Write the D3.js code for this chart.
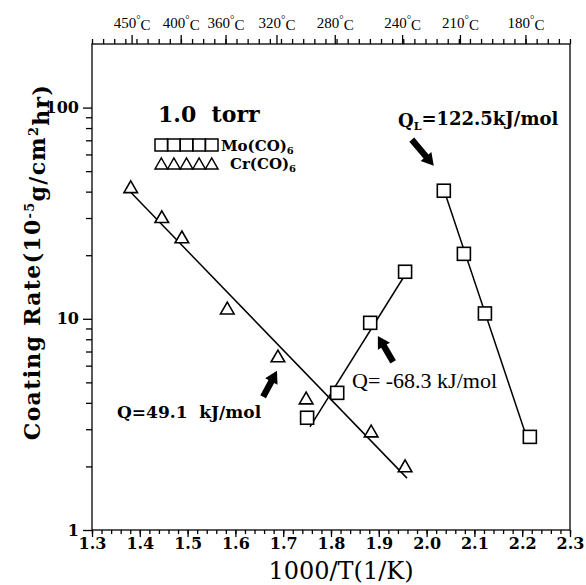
<!DOCTYPE html>
<html>
<head>
<meta charset="utf-8">
<script src="https://cdn.jsdelivr.net/npm/d3@7"></script>
<style>
  body { margin: 0; background: #fff; }
  svg { display: block; }
  .axis path, .axis line { stroke: #000; stroke-width: 1.3px; }
</style>
</head>
<body>
<svg id="chart" width="586" height="585"></svg>
<script>
// data: x = 1000/T (1/K), y = coating rate (10^-5 g/cm^2 hr)
const crX = [1.381, 1.446, 1.488, 1.583, 1.689, 1.748, 1.884, 1.955];
const crY = [41.3, 29.8, 23.9, 11.0, 6.53, 4.13, 2.88, 1.97];
const moX = [1.750, 1.813, 1.882, 1.955, 2.036, 2.078, 2.122, 2.216];
const moY = [3.40, 4.46, 9.57, 16.7, 40.4, 20.3, 10.6, 2.76];

// fitted lines (end points)
const crFit = [[1.382, 39.5], [1.959, 1.76]];
const moLowFit = [[1.756, 3.08], [1.959, 16.7]];
const moHighFit = [[2.036, 40.9], [2.212, 2.64]];

// arrows: [tail, tip]
const arrows = [
  [[1.969, 70.5], [2.015, 53.1]],
  [[1.930, 6.25], [1.898, 8.3]],
  [[1.658, 4.27], [1.687, 5.67]]
];

const xMajor = [1.3, 1.4, 1.5, 1.6, 1.7, 1.8, 1.9, 2.0, 2.1, 2.2, 2.3];
const yMajor = [1, 10, 100];
const tempC = [450, 400, 360, 320, 280, 240, 210, 180];

const svg = d3.select("#chart");
const mLeft = 92, mRight = 570, mTop = 44, mBottom = 530;

const x = d3.scaleLinear().domain([1.3, 2.3]).range([mLeft, mRight]);
const y = d3.scaleLog().domain([1, 200]).range([mBottom, mTop]);

const boldSerif = "'DejaVu Serif', serif";
const timesFont = "'Liberation Serif', 'Times New Roman', serif";

// frame
svg.append("rect")
	.attr("x", mLeft).attr("y", mTop)
	.attr("width", mRight - mLeft).attr("height", mBottom - mTop)
	.style("fill", "none").style("stroke", "#000").style("stroke-width", "1.3px");

// bottom axis
const xMinor = d3.range(0, 51).map(i => 1.3 + i * 0.02);
svg.append("g").attr("class", "axis")
	.attr("transform", "translate(0," + mBottom + ")")
	.call(d3.axisBottom(x).tickValues(xMinor).tickSize(4).tickFormat(""))
	.call(g => g.select(".domain").remove());
svg.append("g").attr("class", "axis")
	.attr("transform", "translate(0," + mBottom + ")")
	.call(d3.axisBottom(x).tickValues(xMajor).tickSize(7).tickPadding(1).tickFormat(d3.format(".1f")))
	.call(g => g.select(".domain").remove())
	.selectAll("text")
	.style("font-family", boldSerif).style("font-weight", "bold").style("font-size", "16px").style("fill", "#000");

// left axis
const yMinor = [];
[1, 10].forEach(d => d3.range(2, 10).forEach(k => yMinor.push(d * k)));
svg.append("g").attr("class", "axis")
	.attr("transform", "translate(" + mLeft + ",0)")
	.call(d3.axisLeft(y).tickValues(yMinor).tickSize(6).tickFormat(""))
	.call(g => g.select(".domain").remove());
svg.append("g").attr("class", "axis")
	.attr("transform", "translate(" + mLeft + ",0)")
	.call(d3.axisLeft(y).tickValues(yMajor).tickSize(9).tickPadding(4).tickFormat(d3.format("d")))
	.call(g => g.select(".domain").remove())
	.selectAll("text")
	.style("font-family", boldSerif).style("font-weight", "bold").style("font-size", "16px").style("fill", "#000");

// top axis: temperature in deg C
const topMinor = d3.range(0, 44).map(i => 1.3 + i / 43);
svg.append("g").attr("class", "axis")
	.attr("transform", "translate(0," + mTop + ")")
	.call(d3.axisTop(x).tickValues(topMinor).tickSize(5).tickFormat(""))
	.call(g => g.select(".domain").remove());
const topAxis = svg.append("g").attr("class", "axis")
	.attr("transform", "translate(0," + mTop + ")")
	.call(d3.axisTop(x).tickValues(tempC.map(t => 1000 / (t + 273.15))).tickSize(9).tickPadding(7).tickFormat(""))
	.call(g => g.select(".domain").remove());
topAxis.selectAll(".tick text")
	.data(tempC)
	.style("font-family", timesFont).style("font-size", "15px").style("fill", "#000")
	.each(function(t) {
		const s = d3.select(this);
		s.append("tspan").text(t);
		s.append("tspan").text("°").attr("dy", "-0.45em").style("font-size", "11px");
		s.append("tspan").text("C").attr("dy", "0.45em");
	});

// axis titles
svg.append("text")
	.attr("x", 341).attr("y", 579)
	.attr("text-anchor", "middle")
	.style("font-family", boldSerif).style("font-size", "24px")
	.text("1000/T(1/K)");

const yTitle = svg.append("text")
	.attr("transform", "translate(40,262) rotate(-90)")
	.attr("text-anchor", "middle")
	.style("font-family", boldSerif).style("font-weight", "bold").style("font-size", "22px")
	.style("letter-spacing", "1.3px");
yTitle.append("tspan").text("Coating Rate(10");
yTitle.append("tspan").text("-5").attr("dy", "-0.5em").style("font-size", "13px");
yTitle.append("tspan").text("g/cm").attr("dy", "0.5em");
yTitle.append("tspan").text("2").attr("dy", "-0.5em").style("font-size", "13px");
yTitle.append("tspan").text("hr)").attr("dy", "0.5em");

// fitted lines
const line = d3.line().x(d => x(d[0])).y(d => y(d[1]));
[crFit, moLowFit, moHighFit].forEach(f => {
	svg.append("path")
		.attr("d", line(f))
		.style("fill", "none").style("stroke", "#000").style("stroke-width", "1.5px");
});

// markers
const sq = 13;
svg.selectAll(".mo").data(d3.zip(moX, moY)).join("rect")
	.attr("class", "mo")
	.attr("x", d => x(d[0]) - sq / 2).attr("y", d => y(d[1]) - sq / 2)
	.attr("width", sq).attr("height", sq)
	.style("fill", "#fff").style("stroke", "#000").style("stroke-width", "1.6px");

const tri = d3.symbol().type(d3.symbolTriangle).size(80);
svg.selectAll(".cr").data(d3.zip(crX, crY)).join("path")
	.attr("class", "cr")
	.attr("d", tri)
	.attr("transform", d => "translate(" + x(d[0]) + "," + y(d[1]) + ")")
	.style("fill", "#fff").style("stroke", "#000").style("stroke-width", "1.6px");

// arrows
function arrowPath(a) {
	const x1 = x(a[0][0]), y1 = y(a[0][1]), x2 = x(a[1][0]), y2 = y(a[1][1]);
	const len = Math.hypot(x2 - x1, y2 - y1);
	const ux = (x2 - x1) / len, uy = (y2 - y1) / len;
	const px = -uy, py = ux;
	const sw = 3.2, hw = 7, hl = 12;
	const bx = x2 - ux * hl, by = y2 - uy * hl;
	const pts = [
		[x1 + px * sw, y1 + py * sw], [bx + px * sw, by + py * sw], [bx + px * hw, by + py * hw],
		[x2, y2],
		[bx - px * hw, by - py * hw], [bx - px * sw, by - py * sw], [x1 - px * sw, y1 - py * sw]
	];
	return "M" + pts.map(p => p.join(",")).join("L") + "Z";
}
svg.selectAll(".arrow").data(arrows).join("path")
	.attr("class", "arrow")
	.attr("d", arrowPath)
	.style("fill", "#000");

// annotations
svg.append("text")
	.attr("x", 158).attr("y", 122)
	.attr("xml:space", "preserve")
	.style("font-family", boldSerif).style("font-weight", "bold").style("font-size", "22px")
	.text("1.0  torr");

const ql = svg.append("text")
	.attr("x", 398).attr("y", 127)
	.style("font-family", boldSerif).style("font-weight", "bold").style("font-size", "18px");
ql.append("tspan").text("Q");
ql.append("tspan").text("L").attr("dy", "0.25em").style("font-size", "11px");
ql.append("tspan").text("=122.5kJ/mol").attr("dy", "-0.25em");

svg.append("text")
	.attr("x", 352).attr("y", 388)
	.style("font-family", timesFont).style("font-size", "22px")
	.text("Q= -68.3 kJ/mol");

svg.append("text")
	.attr("x", 117).attr("y", 418)
	.attr("xml:space", "preserve")
	.style("font-family", boldSerif).style("font-weight", "bold").style("font-size", "17px")
	.text("Q=49.1  kJ/mol");

// legend
const legX = 155, legW = 12.6;
const lg = svg.append("g");
d3.range(5).forEach(i => {
	lg.append("rect")
		.attr("x", legX + i * legW).attr("y", 139)
		.attr("width", legW).attr("height", 12)
		.style("fill", "none").style("stroke", "#000").style("stroke-width", "1.5px");
	lg.append("path")
		.attr("d", "M" + (legX + i * legW) + ",169L" + (legX + (i + 0.5) * legW) + ",158L" + (legX + (i + 1) * legW) + ",169Z")
		.style("fill", "none").style("stroke", "#000").style("stroke-width", "1.5px");
});
function formula(xp, yp, name) {
	const t = lg.append("text")
		.attr("x", xp).attr("y", yp)
		.style("font-family", boldSerif).style("font-weight", "bold").style("font-size", "15px");
	t.append("tspan").text(name + "(CO)");
	t.append("tspan").text("6").attr("dy", "0.3em").style("font-size", "10px");
}
formula(221, 151, "Mo");
formula(230, 169, "Cr");
</script>
</body>
</html>
